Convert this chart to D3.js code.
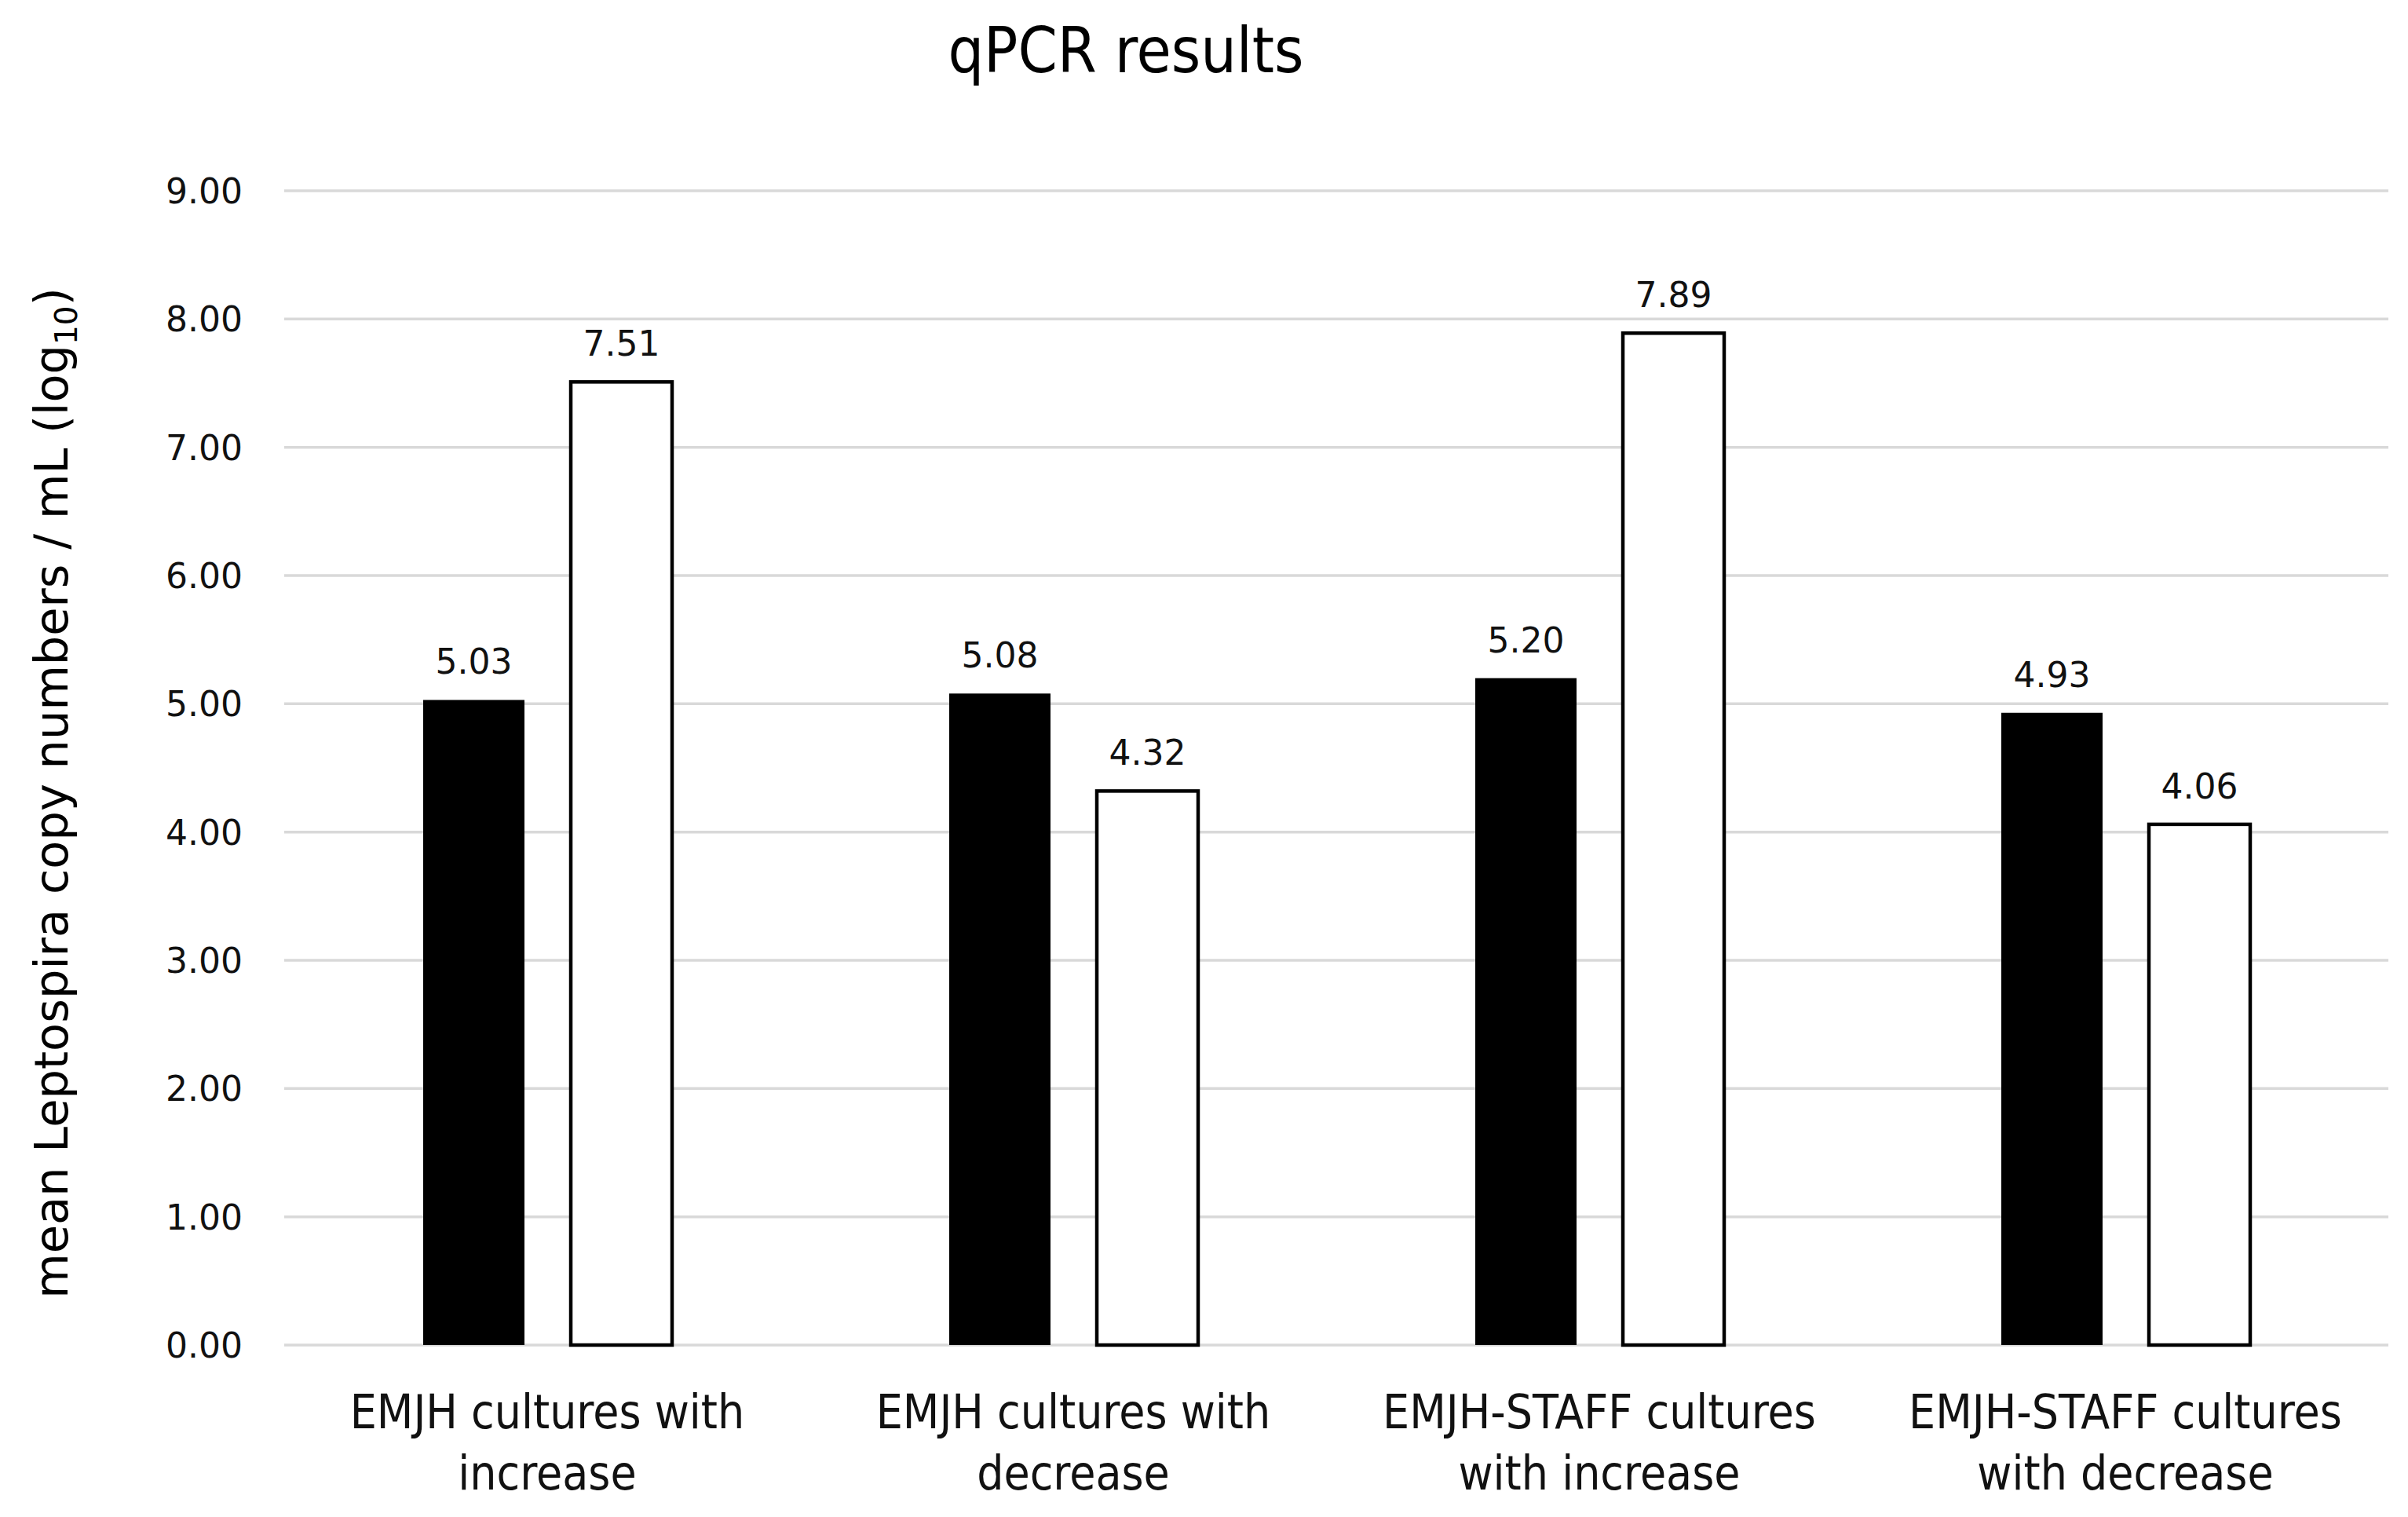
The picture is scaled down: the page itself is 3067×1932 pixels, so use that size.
<html>
<head>
<meta charset="utf-8">
<script src="https://d3js.org/d3.v7.min.js"></script>
<style>
  body { margin: 0; background: #fff; }
</style>
</head>
<body>
<svg id="chart" width="3067" height="1932"></svg>
<script>
// values
const categories = [
    ["EMJH cultures with", "increase"],
    ["EMJH cultures with", "decrease"],
    ["EMJH-STAFF cultures", "with increase"],
    ["EMJH-STAFF cultures", "with decrease"]
];
const seriesNames = ["first", "second"];
const firstValues = [5.03, 5.08, 5.20, 4.93];
const secondValues = [7.51, 4.32, 7.89, 4.06];
const yTicks = [0, 1, 2, 3, 4, 5, 6, 7, 8, 9];

const narrow = "'Liberation Sans Narrow', 'DejaVu Sans Condensed', sans-serif";
const verd = "'DejaVu Sans', Verdana, sans-serif";

const svg = d3.select("#chart");
const plotLeft = 362, plotRight = 3042, plotTop = 243, plotBottom = 1713;

var x0 = d3.scaleBand().domain(d3.range(categories.length)).range([plotLeft, plotRight]).padding(0);
var x1 = d3.scaleBand().domain(seriesNames).range([-158, 159]).paddingInner(0.314);
var y = d3.scaleLinear().domain([0, 9]).range([plotBottom, plotTop]);

// gridlines
svg.append("g").selectAll("line").data(yTicks).join("line")
    .attr("x1", plotLeft).attr("x2", plotRight)
    .attr("y1", d => y(d)).attr("y2", d => y(d))
    .attr("stroke", "#d9d9d9").attr("stroke-width", 3.5);

// y tick labels
svg.append("g").selectAll("text").data(yTicks).join("text")
    .attr("x", 309).attr("y", d => y(d))
    .attr("dy", "0.36em")
    .attr("text-anchor", "end")
    .attr("font-family", verd).attr("font-size", 44).attr("fill", "#111")
    .text(d => d3.format(".2f")(d));

// bars
const rows = categories.map((c, i) => ({i: i, first: firstValues[i], second: secondValues[i]}));
const groups = svg.append("g").selectAll("g").data(rows).join("g")
    .attr("transform", d => "translate(" + (x0(d.i) + x0.bandwidth() / 2) + ",0)");

groups.selectAll("rect").data(d => seriesNames.map(k => ({key: k, value: d[k]}))).join("rect")
    .attr("x", d => x1(d.key))
    .attr("width", x1.bandwidth())
    .attr("y", d => y(d.value))
    .attr("height", d => y(0) - y(d.value))
    .attr("fill", d => d.key === "first" ? "#000" : "#fff")
    .attr("stroke", d => d.key === "first" ? "none" : "#000")
    .attr("stroke-width", 4.5);

groups.selectAll("text").data(d => seriesNames.map(k => ({key: k, value: d[k]}))).join("text")
    .attr("x", d => x1(d.key) + x1.bandwidth() / 2)
    .attr("y", d => y(d.value) - 33)
    .attr("text-anchor", "middle")
    .attr("font-family", verd).attr("font-size", 44).attr("fill", "#111")
    .text(d => d3.format(".2f")(d.value));

// category labels
svg.append("g").selectAll("text").data(categories).join("text")
    .attr("text-anchor", "middle")
    .attr("font-family", narrow).attr("font-size", 60).attr("fill", "#111")
    .each(function(d, i) {
        d3.select(this).selectAll("tspan").data(d).join("tspan")
            .attr("x", x0(i) + x0.bandwidth() / 2)
            .attr("y", (s, j) => 1819 + j * 78)
            .text(s => s);
    });

// title
svg.append("text").attr("x", 1434).attr("y", 92)
    .attr("text-anchor", "middle")
    .attr("font-family", narrow).attr("font-size", 80).attr("fill", "#000")
    .text("qPCR results");

// y axis title
const yt = svg.append("text")
    .attr("transform", "translate(86,1010) rotate(-90)")
    .attr("text-anchor", "middle")
    .attr("font-family", verd).attr("font-size", 59).attr("fill", "#000");
yt.append("tspan").text("mean Leptospira copy numbers / mL (log");
yt.append("tspan").attr("font-size", 39).attr("dy", 12).text("10");
yt.append("tspan").attr("dy", -12).text(")");
</script>
</body>
</html>
